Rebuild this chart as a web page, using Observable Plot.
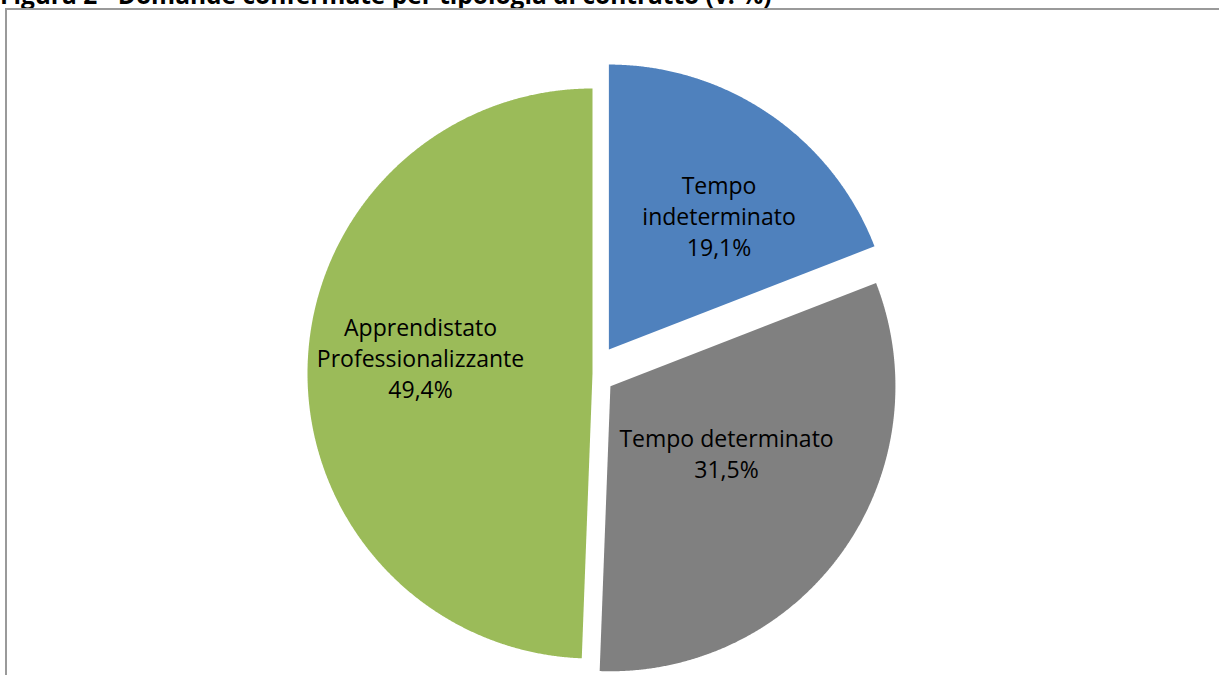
<!DOCTYPE html>
<html><head><meta charset="utf-8">
<script src="https://cdn.jsdelivr.net/npm/d3@7"></script>
<script src="https://cdn.jsdelivr.net/npm/@observablehq/plot@0.6"></script>
<style>
html,body{margin:0;padding:0;overflow:hidden;background:#fff;width:1219px;height:675px;}
#wrap{position:relative;width:1219px;height:675px;overflow:hidden;}
#chart{position:absolute;left:0;top:0;}
#title{position:absolute;left:0;top:-17px;font:bold 24.5px "Open Sans";line-height:24.5px;white-space:nowrap;color:#000;}
#frame{position:absolute;left:5px;top:8px;width:1400px;height:900px;border-left:2px solid #9a9a9a;border-top:2px solid #9a9a9a;pointer-events:none;}
</style></head>
<body><div id="wrap"><div id="chart"></div><div id="title">Figura 2 - Domande confermate per tipologia di contratto (v. %)</div><div id="frame"></div></div>
<script>
// ---- data ----
const categories = ["Tempo indeterminato", "Tempo determinato", "Apprendistato Professionalizzante"];
const labelNames = ["Tempo\nindeterminato", "Tempo determinato", "Apprendistato\nProfessionalizzante"];
const values = [19.1, 31.5, 49.4];
const colors = ["#4F81BD", "#808080", "#9BBB59"];

// ---- layout / style ----
const W = 1219, H = 675;
const cx = 592, cy = 373, R = 285;          // pie centre and radius in pixels
const explode = [29, 22, 0];                 // px offset along bisector
const labelFrac = [0.61, 0.47, 0.6];
const labelNudge = [[12, 9], [7, -11], [-1, -13]]; // px

const arcs = d3.pie().sort(null).value(d => d)(values);
const pts = [];
const labels = [];
arcs.forEach((a, i) => {
  const mid = (a.startAngle + a.endAngle) / 2;
  const e = explode[i] / R;
  const ox = e * Math.sin(mid), oy = e * Math.cos(mid);
  pts.push({cat: categories[i], x: ox, y: oy});
  const n = Math.ceil((a.endAngle - a.startAngle) / 0.004);
  for (let k = 0; k <= n; k++) {
    const t = a.startAngle + (a.endAngle - a.startAngle) * k / n;
    pts.push({cat: categories[i], x: ox + Math.sin(t), y: oy + Math.cos(t)});
  }
  labels.push({
    x: ox + labelFrac[i] * Math.sin(mid) + labelNudge[i][0] / R,
    y: oy + labelFrac[i] * Math.cos(mid) - labelNudge[i][1] / R,
    text: labelNames[i] + "\n" + values[i].toFixed(1).replace(".", ",") + "%"
  });
});

const chart = Plot.plot({
  width: W, height: H, margin: 0,
  style: {background: "transparent"},
  x: {domain: [-cx / R, (W - cx) / R], axis: null},
  y: {domain: [(cy - H) / R, cy / R], axis: null},
  color: {domain: categories, range: colors},
  marks: [
    Plot.line(pts, {x: "x", y: "y", z: "cat", fill: "cat", stroke: "none", curve: "linear-closed"}),
    Plot.text(labels, {x: "x", y: "y", text: "text", fontSize: 23, lineHeight: 1.35,
      fontFamily: "Open Sans", fill: "#000", lineAnchor: "middle"})
  ]
});
document.getElementById("chart").appendChild(chart);
</script>
</body></html>
